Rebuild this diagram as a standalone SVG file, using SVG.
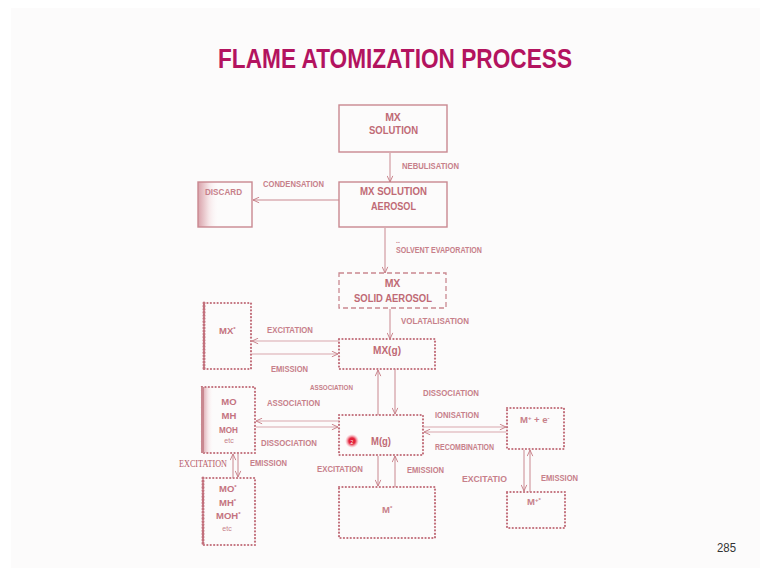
<svg xmlns="http://www.w3.org/2000/svg" width="770" height="576" viewBox="0 0 770 576">
  <defs>
    <style>
      .lbl { font-family: "Liberation Sans", Arial, sans-serif; font-weight: bold; font-size: 9.5px; fill: #c7808a; }
      .big { font-size: 10.5px; fill: #c06a75; }
      .mid { font-size: 9.5px; fill: #c47380; }
      .small { font-size: 7px; font-weight: normal; }
      .sup { font-size: 6px; }
      .serif { font-family: "Liberation Serif", "Times New Roman", serif; font-weight: normal; font-size: 10.5px; fill: #b8606b; }
      .solid { fill: none; stroke: #c98890; stroke-width: 1.4; }
      .dash { fill: none; stroke: #c98890; stroke-width: 1.3; stroke-dasharray: 5 3; }
      .dot { fill: none; stroke: #c2707c; stroke-width: 2.2; stroke-linecap: round; stroke-dasharray: 0.1 3.3; }
      .edge { fill: none; stroke: #c2707c; stroke-width: 3; stroke-linecap: round; stroke-dasharray: 0.1 3; }
      .conn line { stroke: #c98890; stroke-width: 1; marker-end: url(#head); }
      .faint line { stroke: #d9a7ad; }
    </style>
    <marker id="head" viewBox="0 0 8 8" refX="7.5" refY="4" markerWidth="7" markerHeight="7" markerUnits="userSpaceOnUse" orient="auto">
      <path d="M0.5,0.8 L7.5,4 L0.5,7.2" fill="none" stroke="#c47780" stroke-width="1"/>
    </marker>
    <linearGradient id="shadeL" x1="0" y1="0" x2="1" y2="0">
      <stop offset="0" stop-color="#d9a2aa"/>
      <stop offset="0.5" stop-color="#f6e6e8"/>
      <stop offset="1" stop-color="#ffffff" stop-opacity="0"/>
    </linearGradient>
    <radialGradient id="glow">
      <stop offset="0" stop-color="#e0102c"/>
      <stop offset="0.45" stop-color="#e4283f"/>
      <stop offset="1" stop-color="#f6a0ac" stop-opacity="0"/>
    </radialGradient>
  </defs>

  <!-- page -->
  <rect x="0" y="0" width="770" height="576" fill="#ffffff"/>
  <rect x="11" y="8" width="749" height="560" fill="#fcfbfb"/>

  <text x="395" y="68" text-anchor="middle" textLength="354" lengthAdjust="spacingAndGlyphs"
        style="font-family:'Liberation Sans', Arial, sans-serif; font-weight:bold; font-size:28px; fill:#b3135f;">FLAME ATOMIZATION PROCESS</text>

  <!-- nodes -->
  <g id="mx-solution">
    <rect class="solid" x="339" y="105" width="108" height="47"/>
    <text class="lbl big" x="393" y="121" text-anchor="middle">MX</text>
    <text class="lbl big" x="393.5" y="134" text-anchor="middle" textLength="49" lengthAdjust="spacingAndGlyphs">SOLUTION</text>
  </g>

  <g id="mx-aerosol">
    <rect class="solid" x="339" y="182" width="108" height="45"/>
    <text class="lbl big" x="393.5" y="195" text-anchor="middle" textLength="67" lengthAdjust="spacingAndGlyphs">MX SOLUTION</text>
    <text class="lbl big" x="393.5" y="210" text-anchor="middle" textLength="45" lengthAdjust="spacingAndGlyphs">AEROSOL</text>
  </g>

  <g id="discard">
    <rect x="198" y="182" width="22" height="45" fill="url(#shadeL)"/>
    <rect class="solid" x="198" y="182" width="54" height="45"/>
    <text class="lbl" x="205" y="195" textLength="37" lengthAdjust="spacingAndGlyphs">DISCARD</text>
  </g>

  <g id="mx-solid-aerosol">
    <rect class="dash" x="339" y="273" width="107" height="35"/>
    <text class="lbl big" x="392.5" y="287" text-anchor="middle">MX</text>
    <text class="lbl big" x="393" y="302" text-anchor="middle" textLength="78" lengthAdjust="spacingAndGlyphs">SOLID AEROSOL</text>
  </g>

  <g id="mx-gas">
    <rect class="dot" x="339" y="339" width="96" height="30"/>
    <text class="lbl big" x="387" y="354" text-anchor="middle" textLength="28" lengthAdjust="spacingAndGlyphs">MX(g)</text>
  </g>

  <g id="mx-excited">
    <rect class="dot" x="204" y="303" width="47" height="66"/>
    <line class="edge" x1="204" y1="303" x2="204" y2="369"/>
    <text class="lbl mid" x="219" y="334">MX<tspan class="sup" dy="-3">*</tspan></text>
  </g>

  <g id="mo-mh-moh">
    <rect x="202" y="387" width="12" height="66" fill="url(#shadeL)"/>
    <rect class="dot" x="202" y="387" width="53" height="66"/>
    <line x1="202.5" y1="387" x2="202.5" y2="453" stroke="#c98890" stroke-width="3"/>
    <text class="lbl mid" x="229" y="405" text-anchor="middle">MO</text>
    <text class="lbl mid" x="229" y="419" text-anchor="middle">MH</text>
    <text class="lbl mid" x="228.5" y="433" text-anchor="middle" textLength="19" lengthAdjust="spacingAndGlyphs">MOH</text>
    <text class="lbl small" x="229" y="443" text-anchor="middle">etc</text>
  </g>

  <g id="mo-excited">
    <rect class="dot" x="203" y="478" width="52" height="67"/>
    <line class="edge" x1="203" y1="478" x2="203" y2="545"/>
    <text class="lbl mid" x="219" y="492">MO<tspan class="sup" dy="-3">*</tspan></text>
    <text class="lbl mid" x="219" y="506">MH<tspan class="sup" dy="-3">*</tspan></text>
    <text class="lbl mid" x="216" y="519">MOH<tspan class="sup" dy="-3">*</tspan></text>
    <text class="lbl small" x="227" y="531" text-anchor="middle">etc</text>
  </g>

  <g id="m-gas">
    <rect class="dot" x="339" y="415" width="84" height="40"/>
    <circle cx="352" cy="441" r="7" fill="url(#glow)"/>
    <text x="352" y="443.5" text-anchor="middle" style="font-family:'Liberation Sans', Arial, sans-serif; font-size:5px; fill:#ffffff;">2</text>
    <text class="lbl big" x="381" y="445" text-anchor="middle" textLength="20" lengthAdjust="spacingAndGlyphs">M(g)</text>
  </g>

  <g id="m-ion">
    <rect class="dot" x="507" y="408" width="57" height="41"/>
    <text class="lbl" x="520" y="423">M<tspan class="sup" dy="-3">+</tspan><tspan dy="3"> + e</tspan><tspan class="sup" dy="-3">-</tspan></text>
  </g>

  <g id="m-excited">
    <rect class="dot" x="339" y="487" width="96" height="51"/>
    <text class="lbl" x="382" y="513">M<tspan class="sup" dy="-3">*</tspan></text>
  </g>

  <g id="m-ion-excited">
    <rect class="dot" x="507" y="492" width="58" height="36"/>
    <text class="lbl" x="527" y="505">M<tspan class="sup" dy="-3">+*</tspan></text>
  </g>

  <!-- connectors -->
  <g id="connectors" class="conn">
    <line x1="390" y1="153" x2="390" y2="182"/>
    <line x1="339" y1="200" x2="253" y2="200"/>
    <line x1="385" y1="228" x2="385" y2="273"/>
    <line x1="390" y1="309" x2="390" y2="339"/>
    <g class="faint">
      <line x1="339" y1="341" x2="252" y2="341"/>
      <line x1="252" y1="354" x2="338" y2="354"/>
      <line x1="339" y1="421" x2="256" y2="421"/>
      <line x1="256" y1="427" x2="338" y2="427"/>
      <line x1="423" y1="427" x2="506" y2="427"/>
      <line x1="506" y1="432" x2="424" y2="432"/>
    </g>
    <line x1="378" y1="415" x2="378" y2="370"/>
    <line x1="395" y1="369" x2="395" y2="414"/>
    <line x1="233" y1="478" x2="233" y2="454"/>
    <line x1="238" y1="453" x2="238" y2="477"/>
    <line x1="378" y1="456" x2="378" y2="486"/>
    <line x1="395" y1="487" x2="395" y2="456"/>
    <line x1="524" y1="450" x2="524" y2="491"/>
    <line x1="530" y1="492" x2="530" y2="450"/>
  </g>

  <!-- connector labels -->
  <g id="labels">
    <text class="lbl" x="402" y="169" textLength="57" lengthAdjust="spacingAndGlyphs">NEBULISATION</text>
    <text class="lbl" x="263" y="187" textLength="61" lengthAdjust="spacingAndGlyphs">CONDENSATION</text>
    <text class="lbl small" x="396" y="243" style="font-weight:bold">..</text>
    <text class="lbl" x="396" y="253" textLength="86" lengthAdjust="spacingAndGlyphs">SOLVENT EVAPORATION</text>
    <text class="lbl" x="401" y="324" textLength="68" lengthAdjust="spacingAndGlyphs">VOLATALISATION</text>
    <text class="lbl" x="267" y="333" textLength="46" lengthAdjust="spacingAndGlyphs">EXCITATION</text>
    <text class="lbl" x="271" y="372" textLength="37" lengthAdjust="spacingAndGlyphs">EMISSION</text>
    <text class="lbl" x="310" y="390" textLength="43" lengthAdjust="spacingAndGlyphs" style="font-size:8px">ASSOCIATION</text>
    <text class="lbl" x="423" y="396" textLength="56" lengthAdjust="spacingAndGlyphs">DISSOCIATION</text>
    <text class="lbl" x="267" y="406" textLength="53" lengthAdjust="spacingAndGlyphs">ASSOCIATION</text>
    <text class="lbl" x="435" y="418" textLength="44" lengthAdjust="spacingAndGlyphs">IONISATION</text>
    <text class="lbl" x="261" y="446" textLength="56" lengthAdjust="spacingAndGlyphs">DISSOCIATION</text>
    <text class="lbl" x="435" y="450" textLength="59" lengthAdjust="spacingAndGlyphs">RECOMBINATION</text>
    <text class="serif" x="179" y="467" textLength="48" lengthAdjust="spacingAndGlyphs">EXCITATION</text>
    <text class="lbl" x="250" y="466" textLength="37" lengthAdjust="spacingAndGlyphs">EMISSION</text>
    <text class="lbl" x="317" y="472" textLength="46" lengthAdjust="spacingAndGlyphs">EXCITATION</text>
    <text class="lbl" x="407" y="473" textLength="37" lengthAdjust="spacingAndGlyphs">EMISSION</text>
    <text class="lbl" x="462" y="482" textLength="45" lengthAdjust="spacingAndGlyphs">EXCITATIO</text>
    <text class="lbl" x="541" y="481" textLength="37" lengthAdjust="spacingAndGlyphs">EMISSION</text>
  </g>

  <text x="717" y="552" textLength="19" lengthAdjust="spacingAndGlyphs"
        style="font-family:'Liberation Sans', Arial, sans-serif; font-size:13px; fill:#333333;">285</text>
</svg>
